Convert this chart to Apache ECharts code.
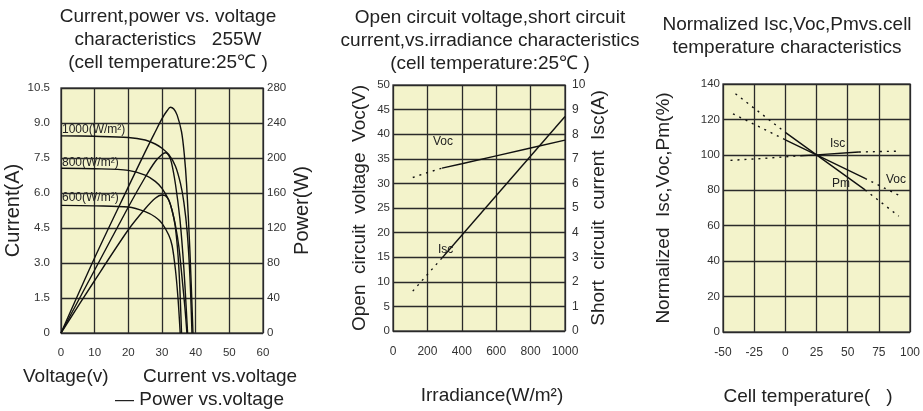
<!DOCTYPE html>
<html>
<head>
<meta charset="utf-8">
<script src="https://cdn.jsdelivr.net/npm/echarts@6/dist/echarts.min.js"></script>
<style>
html, body { margin: 0; padding: 0; background: #fff; }
#main { width: 923px; height: 411px; }
</style>
</head>
<body>
<div id="main"></div>
<script>
// --- chart 1 : current / power vs voltage, [V, value]
var iv1000 = [[0, 8.45], [10, 8.43], [20, 8.38], [25, 8.27], [28, 8.1], [30, 7.92], [32, 7.65], [34, 7.15], [35.5, 6.4], [36.5, 5.6], [37.5, 4.3], [38.3, 2.4], [38.9, 0]];
var iv800 = [[0, 7.06], [10, 7.04], [20, 6.97], [25, 6.77], [28, 6.5], [30, 6.2], [32, 5.7], [33, 5.25], [34, 4.6], [35, 3.7], [36, 2.3], [36.8, 1.1], [37.4, 0]];
var iv600 = [[0, 5.47], [10, 5.45], [20, 5.4], [25, 5.2], [28, 4.97], [30, 4.7], [32, 4.2], [33, 3.75], [34, 2.7], [34.8, 1.4], [35.4, 0]];
var pv1000 = [[0, 0], [10, 86], [20, 167], [25, 207], [28, 230], [30, 245], [31.5, 254], [32.5, 258], [33.5, 256], [34.5, 249], [35.8, 230], [36.6, 205], [37.3, 170], [38.3, 93], [39.2, 0]];
var pv800 = [[0, 0], [10, 72], [20, 144], [25, 178], [28, 196], [30, 204], [31, 206], [32, 203], [32.8, 195], [34, 170], [35.3, 131], [36.2, 90], [36.8, 55], [37.6, 0]];
var pv600 = [[0, 0], [10, 60], [20, 118], [25, 142], [28, 154], [30, 157.7], [31, 157], [32, 152], [33, 140], [34, 120], [35, 75], [35.8, 0]];
var currentTicks = ['0', '1.5', '3.0', '4.5', '6.0', '7.5', '9.0', '10.5'];

// --- chart 2 : Voc / Isc vs irradiance, [W/m2, value]
var vocDotted = [[115, 31.2], [200, 32.2], [285, 33.1]];
var vocSolid = [[285, 33.1], [400, 34.0], [600, 35.6], [800, 37.2], [1000, 38.8]];
var iscDotted = [[115, 1.62], [200, 2.3], [285, 2.97]];
var iscSolid = [[285, 2.97], [1000, 8.72]];
var irrTicks = ['0', '200', '400', '600', '800', '1000'];

// --- chart 3 : normalized values vs cell temperature, [degC, %]
var iscT = [[-44, 96.9], [-20, 97.9], [12, 99.5]];
var iscTSolid = [[12, 99.5], [25, 100], [59, 101.6]];
var iscTEnd = [[59, 101.6], [91, 102.1]];
var vocT = [[-42, 123.2], [0, 108.5]];
var vocTSolid = [[0, 108.5], [25, 100], [64, 86.7]];
var vocTEnd = [[64, 86.7], [91, 77.2]];
var pmT = [[-40, 134.5], [0, 112.7]];
var pmTSolid = [[0, 112.7], [25, 100], [64, 80.2]];
var pmTEnd = [[64, 80.2], [91, 65.4]];

var chart = echarts.init(document.getElementById('main'));

var font = "'Liberation Sans', Arial, sans-serif";
var plotBg = '#f3f3cb';
var gridColor = '#2a2a2a';
var textColor = '#222';

function line(data, xi, yi, dotted, smooth) {
    return {
        type: 'line',
        data: data,
        xAxisIndex: xi,
        yAxisIndex: yi,
        showSymbol: false,
        smooth: smooth ? 0.3 : false,
        silent: true,
        lineStyle: {color: '#111', width: 1.4, type: dotted ? [2, 5] : 'solid'}
    };
}

function grid(left, top, width, height) {
    return {
        left: left, top: top, width: width, height: height,
        show: true, backgroundColor: plotBg,
        borderColor: '#555', borderWidth: 1.5
    };
}

function valueAxis(opt) {
    var a = {
        type: 'value',
        axisLine: {show: false},
        axisTick: {show: false},
        splitLine: {show: true, lineStyle: {color: gridColor, width: 1.3}},
        axisLabel: {color: '#333', fontSize: 11.5, fontFamily: font},
        nameTextStyle: {color: textColor, fontSize: 19, fontFamily: font},
        nameLocation: 'middle',
        nameRotate: 90
    };
    for (var k in opt) {
        if (k === 'axisLabel') {
            for (var j in opt.axisLabel) a.axisLabel[j] = opt.axisLabel[j];
        } else {
            a[k] = opt[k];
        }
    }
    return a;
}

function txt(text, x, y, size, align) {
    return {
        type: 'text', x: x, y: y, silent: true,
        style: {
            text: text, fill: textColor, fontSize: size, fontFamily: font,
            align: align || 'center', verticalAlign: 'middle', lineHeight: 23
        }
    };
}

var option = {
    animation: false,
    grid: [
        grid(61, 88, 202, 245),
        grid(393, 85, 172, 246),
        grid(723, 84, 188, 248)
    ],
    xAxis: [
        valueAxis({gridIndex: 0, min: 0, max: 60, interval: 10, nameRotate: 0, axisLabel: {margin: 14}}),
        valueAxis({gridIndex: 1, min: 0, max: 1000, interval: 200, nameRotate: 0,
            axisLabel: {margin: 15, fontSize: 12, formatter: function (v, i) { return irrTicks[i]; }}}),
        valueAxis({gridIndex: 2, min: -50, max: 100, interval: 25, nameRotate: 0, axisLabel: {margin: 15, fontSize: 12}})
    ],
    yAxis: [
        valueAxis({gridIndex: 0, min: 0, max: 10.5, interval: 1.5, name: 'Current(A)', nameGap: 35, nameTextStyle: {color: textColor, fontSize: 20, fontFamily: font},
            axisLabel: {margin: 11, formatter: function (v, i) { return currentTicks[i]; }}}),
        valueAxis({gridIndex: 0, position: 'right', min: 0, max: 280, interval: 40, name: 'Power(W)', nameGap: 29, nameTextStyle: {color: textColor, fontSize: 20, fontFamily: font},
            splitLine: {show: false}, axisLabel: {margin: 4}}),
        valueAxis({gridIndex: 1, min: 0, max: 50, interval: 5, name: 'Open  circuit  voltage  Voc(V)', nameGap: 24, axisLabel: {margin: 3}}),
        valueAxis({gridIndex: 1, position: 'right', min: 0, max: 10, interval: 1, name: 'Short  circuit  current  Isc(A)', nameGap: 22,
            splitLine: {show: false}, axisLabel: {margin: 7, fontSize: 12}}),
        valueAxis({gridIndex: 2, min: 0, max: 140, interval: 20, name: 'Normalized  Isc,Voc,Pm(%)', nameGap: 50, axisLabel: {margin: 3}})
    ],
    series: [
        line(iv1000, 0, 0, false, true),
        line(iv800, 0, 0, false, true),
        line(iv600, 0, 0, false, true),
        line(pv1000, 0, 1, false, true),
        line(pv800, 0, 1, false, true),
        line(pv600, 0, 1, false, true),

        line(vocDotted, 1, 2, true),
        line(vocSolid, 1, 2, false),
        line(iscDotted, 1, 3, true),
        line(iscSolid, 1, 3, false),

        line(iscT, 2, 4, true),
        line(iscTSolid, 2, 4, false),
        line(iscTEnd, 2, 4, true),
        line(vocT, 2, 4, true),
        line(vocTSolid, 2, 4, false),
        line(vocTEnd, 2, 4, true),
        line(pmT, 2, 4, true),
        line(pmTSolid, 2, 4, false),
        line(pmTEnd, 2, 4, true)
    ],
    graphic: [
        // titles
        txt('Current,power vs. voltage\ncharacteristics   255W\n(cell temperature:25\u2103 )', 168, 40, 19),
        txt('Open circuit voltage,short circuit\ncurrent,vs.irradiance characteristics\n(cell temperature:25\u2103 )', 490, 41, 19),
        txt('Normalized Isc,Voc,Pmvs.cell\ntemperature characteristics', 787, 36.5, 19),

        // x axis names / legend notes
        txt('Voltage(v)', 23, 377, 19, 'left'),
        txt('Current vs.voltage', 143, 377, 19, 'left'),
        txt('\u2014 Power vs.voltage', 115, 400, 19, 'left'),
        txt('Irradiance(W/m\u00b2)', 492, 396, 19),
        txt('Cell temperature(   )', 808, 397, 19),

        // curve labels
        txt('1000(W/m\u00b2)', 62, 130, 12, 'left'),
        txt('800(W/m\u00b2)', 62, 163, 12, 'left'),
        txt('600(W/m\u00b2)', 62, 198, 12, 'left'),
        txt('Voc', 433, 142, 12, 'left'),
        txt('Isc', 438, 250, 12, 'left'),
        txt('Isc', 830, 144, 12, 'left'),
        txt('Voc', 886, 180, 12, 'left'),
        txt('Pm', 832, 184, 12, 'left')
    ]
};

chart.setOption(option);
</script>
</body>
</html>
